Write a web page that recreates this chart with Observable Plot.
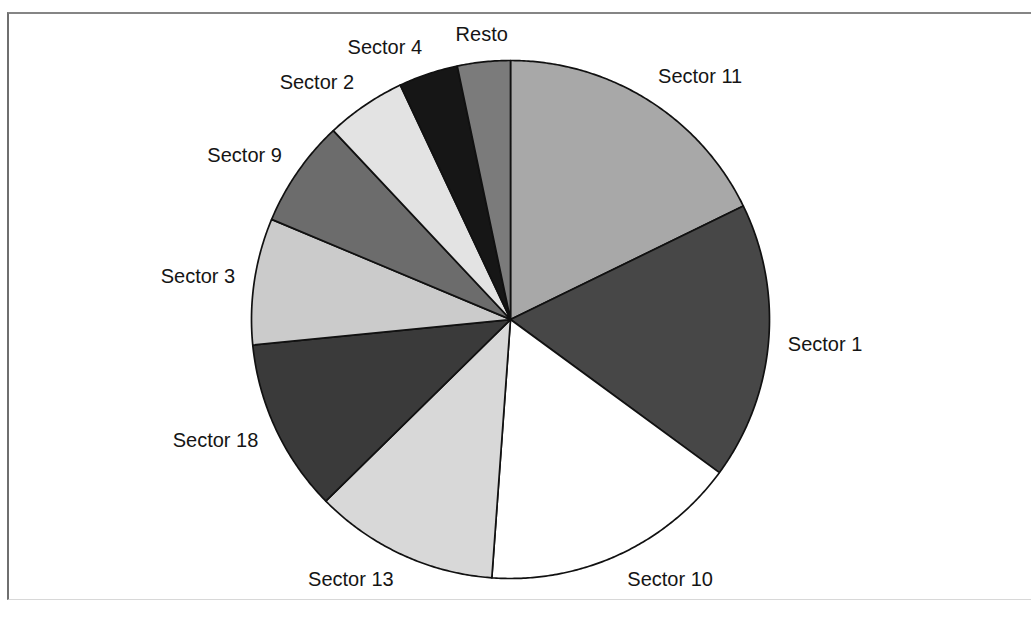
<!DOCTYPE html>
<html>
<head>
<meta charset="utf-8">
<script src="https://cdn.jsdelivr.net/npm/d3@7"></script>
<script src="https://cdn.jsdelivr.net/npm/@observablehq/plot@0.6"></script>
<style>
  html, body { margin: 0; padding: 0; background: #fff; }
  #wrap { position: relative; width: 1031px; height: 627px; overflow: hidden; }
  #frame { position: absolute; left: 7px; top: 12px; width: 1040px; height: 585px;
           border-top: 2px solid #858585; border-left: 2px solid #6f6f6f; border-bottom: 1px solid #d8d8d8; }
  #chart { position: absolute; left: 0; top: 0; }
  #chart svg { overflow: visible; }
</style>
</head>
<body>
<div id="wrap"><div id="frame"></div><div id="chart"></div></div>
<script>
// Slices, clockwise from 12 o'clock
const sectors = ["Sector 11", "Sector 1", "Sector 10", "Sector 13", "Sector 18", "Sector 3", "Sector 9", "Sector 2", "Sector 4", "Resto"];
const shares  = [17.8, 17.3, 16.1, 11.5, 10.8, 7.9, 6.7, 5.0, 3.7, 3.3];
const colors  = ["#a8a8a8", "#474747", "#ffffff", "#d8d8d8", "#3a3a3a", "#cbcbcb", "#6c6c6c", "#e3e3e3", "#161616", "#7b7b7b"];

const arcs = d3.pie().sort(null).startAngle(0).endAngle(2 * Math.PI)(shares);

const features = arcs.map((a, i) => {
  const pts = [[0, 0]];
  const n = Math.max(2, Math.ceil((a.endAngle - a.startAngle) / (Math.PI / 360)));
  for (let k = 0; k <= n; k++) {
    const t = a.startAngle + (a.endAngle - a.startAngle) * k / n;
    pts.push([Math.sin(t), Math.cos(t)]);
  }
  pts.push([0, 0]);
  return {type: "Feature", properties: {name: sectors[i]}, geometry: {type: "Polygon", coordinates: [pts]}};
});

const labels = arcs.map((a, i) => {
  const m = (a.startAngle + a.endAngle) / 2;
  const s = Math.sin(m), c = Math.cos(m);
  const anchor = Math.abs(s) < 0.15 ? "middle" : (s > 0 ? "start" : "end");
  return {name: sectors[i], x: 1.075 * s, y: 1.075 * c + 0.031 * c, anchor};
});

const textOpts = {x: "x", y: "y", text: "name", fontSize: 20, fill: "#151515", lineAnchor: "middle", clip: false};

const chart = Plot.plot({
  width: 1031,
  height: 627,
  marginLeft: 251,
  marginRight: 262,
  marginTop: 60,
  marginBottom: 49,
  style: {fontFamily: "'Liberation Sans', Arial, sans-serif", background: "transparent"},
  projection: {type: "reflect-y", clip: false, domain: {type: "MultiPoint", coordinates: [[-1, -1], [1, 1]]}},
  color: {domain: sectors, range: colors},
  marks: [
    Plot.geo(features, {fill: d => d.properties.name, stroke: "#111", strokeWidth: 1.7, strokeLinejoin: "round"}),
    Plot.text(labels.filter(d => d.anchor === "start"), {...textOpts, textAnchor: "start"}),
    Plot.text(labels.filter(d => d.anchor === "end"), {...textOpts, textAnchor: "end"}),
    Plot.text(labels.filter(d => d.anchor === "middle"), {...textOpts, textAnchor: "middle"})
  ]
});
document.getElementById("chart").appendChild(chart);
</script>
</body>
</html>
